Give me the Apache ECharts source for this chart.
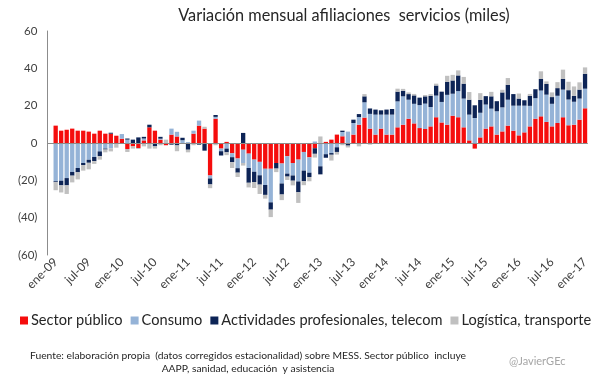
<!DOCTYPE html>
<html><head><meta charset="utf-8">
<script src="https://cdn.jsdelivr.net/npm/echarts@6/dist/echarts.min.js"></script>
<style>html,body{margin:0;padding:0;background:#fff}#c{width:605px;height:378px}</style>
</head><body><div id="c"></div>
<script>
const monthNames = ['ene','feb','mar','abr','may','jun','jul','ago','sep','oct','nov','dic'];
const years = ['09','10','11','12','13','14','15','16','17'];
const yTickLabels = {'60':'60','40':'40','20':'20','0':'0','-20':'(20)','-40':'(40)','-60':'(60)'};
const seriesNames = ['Sector público','Consumo','Actividades profesionales, telecom','Logística, transporte'];
const seriesColors = ['#f50d0d','#95b3d7','#0d2456','#c0c0c0'];

const sectorPublico = [null,
 9.3,6.6,7.1,7.7,6.6,6.6,6.1,5.0,6.6,5.0,
 5.0,3.9,2.3,-3.2,-1.8,-2.7,1.4,8.4,6.6,1.8,
 -1.2,4.5,3.5,0,0,5.0,9.3,7.7,-17.4,13.0,
 -3.0,0.6,-5.5,-8.3,-3.6,-5.7,-8.9,-10.1,-13.8,-13.8,
 -10.7,-11.0,-7.1,-10.7,-8.9,-4.8,-7.7,-2.8,0,0.6,
 1.8,4.5,3.6,0,4.5,9.8,13.6,7.7,4.5,7.7,
 4.5,4.5,8.4,9.8,13.0,10.5,8.0,7.5,8.9,13.8,
 11.0,9.8,14.6,13.8,8.4,1.4,-3.0,3.0,7.7,8.9,
 4.5,6.2,9.3,6.6,4.1,5.7,8.9,13.0,14.3,11.3,
 8.9,10.7,13.8,9.5,9.8,12.5,18.6];
const consumo = [null,
 -20.5,-20.2,-18.8,-15.5,-13.4,-10.7,-9.0,-7.5,-4.5,-3.0,
 -2.9,-0.3,2.5,1.8,0,0,1.0,0,0,0.5,
 0,3.2,2.5,1.5,0.5,1.6,2.7,0,-1.6,1.0,
 -1.4,-3.0,-2.1,-5.2,-7.1,-7.7,-6.5,-7.2,-8.7,-18.0,
 0,-10.7,-9.3,-6.7,-11.7,-10.0,-8.2,0.8,-12.5,-6.0,
 -5.4,-2.3,2.3,6.1,6.2,4.1,8.2,7.9,10.7,7.5,
 10.7,10.7,13.9,15.2,10.2,10.5,12.3,13.6,10.4,11.6,
 11.0,16.0,11.8,14.0,15.4,13.8,13.4,13.2,12.9,9.5,
 12.5,12.9,13.9,13.4,15.9,14.3,11.0,11.0,13.8,14.6,
 12.1,14.6,14.8,13.8,12.3,11.3,10.5];
const actividades = [null,
 -0.5,-2.5,-3.9,-2.0,-2.3,-1.1,-1.6,-2.2,-2.6,-0.5,
 0.5,0,0,0.6,1.8,3.0,0.9,1.4,-1.8,1.0,
 0,-0.9,-1.3,1.3,-3.6,0,-0.9,-4.1,-3.2,1.0,
 -2.3,-2.0,-2.7,-2.4,5.4,-7.9,-5.5,-5.0,-5.3,-3.9,
 -3.0,-5.9,-1.6,-2.8,-5.8,-5.7,-2.3,-3.0,-4.3,-1.9,
 -0.9,-2.5,0.7,-1.4,1.8,1.6,3.2,2.9,2.7,2.3,
 2.7,3.0,5.2,3.0,3.0,4.5,4.0,3.9,6.0,5.4,
 5.5,7.0,7.1,8.4,8.0,8.0,6.8,6.9,4.5,6.6,
 5.4,8.0,8.0,6.2,3.8,2.9,5.4,4.8,6.2,5.7,
 3.6,4.1,5.7,5.0,3.2,4.8,8.0];
const logistica = [null,
 -4.3,-3.8,-4.6,-3.6,-3.8,-3.0,-3.5,-1.5,-1.8,-1.5,
 -1.6,-2.2,0,-1.6,-1.2,-0.5,-1.8,-3.0,-1.2,-1.2,
 1.8,0,-3.1,0,-1.4,-1.2,0,1.0,-2.0,-1.2,
 0,-1.5,-3.1,-2.3,-1.4,-2.5,-3.2,-5.0,-2.0,-4.0,
 -1.9,-3.0,-1.8,-2.5,-5.7,-2.1,-2.3,-2.0,3.5,0,
 -3.1,-1.4,-1.2,-1.0,0,-1.8,1.2,-0.9,0,0,
 0,0,1.6,1.0,0.9,0.8,0,0.7,0.9,1.0,
 0,3.2,3.0,2.7,3.6,4.1,0,3.6,0,2.4,
 0,1.4,3.6,0,2.7,0,1.0,0,4.1,1.4,
 2.5,3.2,5.0,4.5,5.0,3.9,3.4];

const categories = ['dic-08'];
years.forEach(y => monthNames.forEach(m => categories.push(m + '-' + y)));
categories.length = sectorPublico.length;

const font = 'Lato';
const chart = echarts.init(document.getElementById('c'));
const dataSets = [sectorPublico, consumo, actividades, logistica];
const series = dataSets.map((d, i) => ({
  name: seriesNames[i], type: 'bar', stack: 'total', data: d,
  barCategoryGap: '22%', itemStyle: {color: seriesColors[i]},
  emphasis: {disabled: true}
}));
series[0].markLine = {
  silent: true, symbol: ['none','none'], label: {show: false},
  lineStyle: {color: '#8c8c8c', width: 1.2, type: 'solid'},
  data: [{yAxis: 0}]
};
chart.setOption({
  animation: false,
  title: [
    {text: 'Variación mensual afiliaciones  servicios (miles)', left: 339, top: 3, textAlign: 'center',
     textStyle: {fontFamily: font, fontSize: 16.3, fontWeight: 'normal', color: '#262626'}},
    {text: 'Fuente: elaboración propia  (datos corregidos estacionalidad) sobre MESS. Sector público  incluye\nAAPP, sanidad, educación  y asistencia',
     left: 243, top: 344, textAlign: 'center',
     textStyle: {fontFamily: font, fontSize: 10.3, fontWeight: 'normal', color: '#262626', lineHeight: 13, align: 'center'}},
    {text: '@JavierGEc', left: 504, top: 351,
     textStyle: {fontFamily: font, fontSize: 11, fontWeight: 'normal', color: '#a6a6a6'}}
  ],
  legend: {
    data: seriesNames, left: 20, top: 313, width: 600, padding: 0, itemWidth: 8, itemHeight: 8, itemGap: 8,
    icon: 'rect', textStyle: {fontFamily: font, fontSize: 14.6, color: '#262626', padding: [0,0,0,-2]}
  },
  grid: {left: 47.4, right: 17.2, top: 31, bottom: 123},
  xAxis: {
    type: 'category', data: categories,
    axisLine: {show: false, onZero: false}, axisTick: {show: false},
    axisLabel: {
      interval: (idx) => (idx - 1) % 6 === 0, rotate: 45, margin: 5,
      fontFamily: font, fontSize: 12, color: '#404040'
    }
  },
  yAxis: {
    type: 'value', min: -60, max: 60, interval: 20,
    axisLine: {show: true, lineStyle: {color: '#8c8c8c', width: 1}},
    axisTick: {show: false}, splitLine: {show: false},
    axisLabel: {fontFamily: font, fontSize: 11.5, color: '#404040', margin: 10,
      formatter: v => yTickLabels[String(v)]}
  },
  series: series
});
</script></body></html>
